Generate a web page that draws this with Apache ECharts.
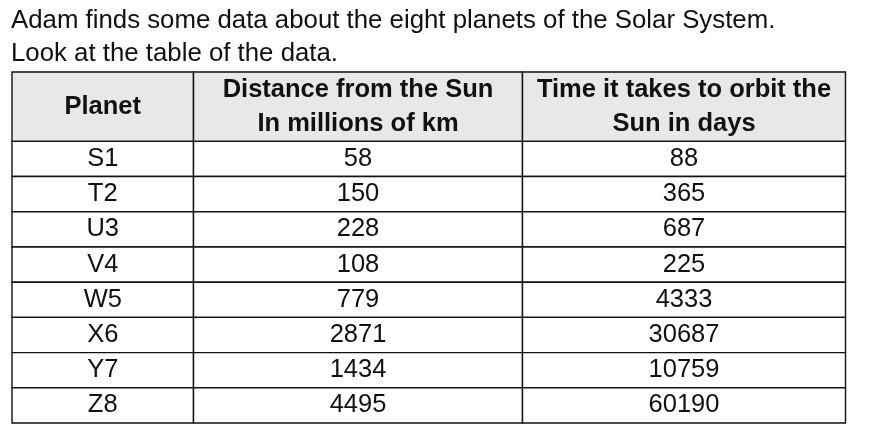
<!DOCTYPE html>
<html>
<head>
<meta charset="utf-8">
<script src="https://cdn.jsdelivr.net/npm/echarts@6/dist/echarts.min.js"></script>
<style>
html,body{margin:0;padding:0;background:#fff;}
#main{width:880px;height:446px;}
</style>
</head>
<body>
<div id="main"></div>
<script>
// ---- data ----
var introLines = [
  'Adam finds some data about the eight planets of the Solar System.',
  'Look at the table of the data.'
];
var headers = ['Planet', 'Distance from the Sun\nIn millions of km', 'Time it takes to orbit the\nSun in days'];
var planets = ['S1', 'T2', 'U3', 'V4', 'W5', 'X6', 'Y7', 'Z8'];
var distanceMkm = [58, 150, 228, 108, 779, 2871, 1434, 4495];
var orbitDays = [88, 365, 687, 225, 4333, 30687, 10759, 60190];

// ---- layout (not data) ----
var colEdges = [0, 181.5, 510.5, 833.5];
var headerUnits = 1.97;
var FONT = '"Liberation Sans", Arial, sans-serif';
var FS = 25.5;

var cells = [];
headers.forEach(function (h, c) {
  cells.push({ value: [c, 0, headerUnits], text: h, header: true });
});
planets.forEach(function (p, r) {
  var y0 = headerUnits + r;
  var vals = [p, String(distanceMkm[r]), String(orbitDays[r])];
  vals.forEach(function (v, c) {
    cells.push({ value: [c, y0, y0 + 1], text: v, header: false });
  });
});

var chart = echarts.init(document.getElementById('main'), null, { renderer: 'canvas' });
chart.setOption({
  backgroundColor: '#ffffff',
  animation: false,
  title: {
    text: introLines.join('\n'),
    left: 11,
    top: 4,
    padding: 0,
    textStyle: {
      fontFamily: FONT,
      fontSize: 25.8,
      fontWeight: 'normal',
      color: '#111111',
      lineHeight: 33
    }
  },
  grid: { left: 12, right: 34.5, top: 72, bottom: 23 },
  xAxis: { type: 'value', min: 0, max: colEdges[colEdges.length - 1], show: false },
  yAxis: { type: 'value', min: 0, max: headerUnits + planets.length, inverse: true, show: false },
  series: [{
    type: 'custom',
    coordinateSystem: 'cartesian2d',
    data: cells,
    renderItem: function (params, api) {
      var c = api.value(0);
      var p0 = api.coord([colEdges[c], api.value(1)]);
      var p1 = api.coord([colEdges[c + 1], api.value(2)]);
      var item = cells[params.dataIndex];
      return {
        type: 'group',
        children: [{
          type: 'rect',
          shape: { x: p0[0], y: p0[1], width: p1[0] - p0[0], height: p1[1] - p0[1] },
          style: { fill: item.header ? '#e8e8e8' : '#ffffff', stroke: '#111111', lineWidth: 1.4 }
        }, {
          type: 'text',
          x: (p0[0] + p1[0]) / 2,
          y: (p0[1] + p1[1]) / 2,
          style: {
            text: item.text,
            align: 'center',
            verticalAlign: 'middle',
            fontFamily: FONT,
            fontSize: FS,
            fontWeight: item.header ? 'bold' : 'normal',
            lineHeight: 34,
            fill: '#111111'
          }
        }]
      };
    }
  }]
});
</script>
</body>
</html>
